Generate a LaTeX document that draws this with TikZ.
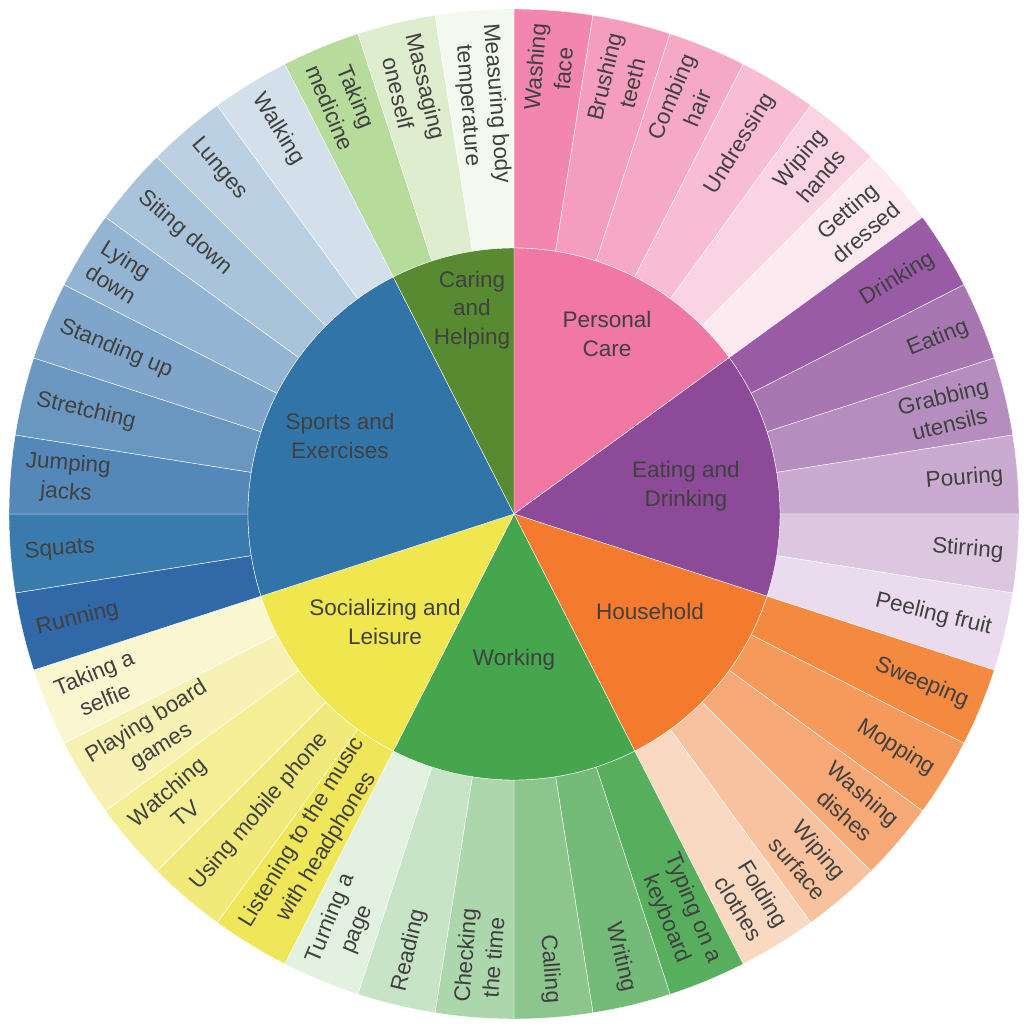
\documentclass[tikz,border=0pt]{standalone}
\usepackage{fontspec}
\setmainfont{Liberation Sans}
\definecolor{pcA}{HTML}{F286AE}\definecolor{pcB}{HTML}{F49DBC}\definecolor{pcC}{HTML}{F5A9C5}
\definecolor{pcD}{HTML}{F8BCD3}\definecolor{pcE}{HTML}{FAD4E2}\definecolor{pcF}{HTML}{FDE9F0}
\definecolor{edA}{HTML}{9A5BA6}\definecolor{edB}{HTML}{A877B1}\definecolor{edC}{HTML}{B58EBF}
\definecolor{edD}{HTML}{CBAAD2}\definecolor{edE}{HTML}{DCC6E0}\definecolor{edF}{HTML}{EADCEE}
\definecolor{hhA}{HTML}{F48A3F}\definecolor{hhB}{HTML}{F59A5A}\definecolor{hhC}{HTML}{F6A877}
\definecolor{hhD}{HTML}{F8C29E}\definecolor{hhE}{HTML}{FAD9C3}
\definecolor{wkA}{HTML}{57AF5E}\definecolor{wkB}{HTML}{74BA79}\definecolor{wkC}{HTML}{8CC68D}
\definecolor{wkD}{HTML}{ACD6AB}\definecolor{wkE}{HTML}{C8E4C6}\definecolor{wkF}{HTML}{E2F1E0}
\definecolor{slA}{HTML}{EFE65A}\definecolor{slB}{HTML}{F1EA7A}\definecolor{slC}{HTML}{F4EE94}
\definecolor{slD}{HTML}{F7F2B3}\definecolor{slE}{HTML}{FAF7D0}
\definecolor{spA}{HTML}{3068A8}\definecolor{spB}{HTML}{3A7BAE}\definecolor{spC}{HTML}{5388B8}
\definecolor{spD}{HTML}{6A97C0}\definecolor{spE}{HTML}{7FA6CA}\definecolor{spF}{HTML}{93B4D2}
\definecolor{spG}{HTML}{A8C3DA}\definecolor{spH}{HTML}{BBD0E2}\definecolor{spI}{HTML}{D3E0EC}
\definecolor{chA}{HTML}{B6DB9B}\definecolor{chB}{HTML}{DDEDCD}\definecolor{chC}{HTML}{F3F9EE}
\definecolor{pcP}{HTML}{F178A3}\definecolor{edP}{HTML}{8C4A98}\definecolor{hhP}{HTML}{F47A2D}
\definecolor{wkP}{HTML}{45A64E}\definecolor{slP}{HTML}{F0E64E}\definecolor{spP}{HTML}{3175A8}
\definecolor{chP}{HTML}{578A31}
\newcommand\leafw[3]{%
  \pgfmathsetmacro\sa{90-9*#1}\pgfmathsetmacro\ea{90-9*(#1+1)}\pgfmathsetmacro\ma{90-9*#1-4.5}%
  \fill[fill=#2,draw=white,line width=0.4pt] (\sa:266) arc[start angle=\sa,end angle=\ea,radius=266] -- (\ea:505) arc[start angle=\ea,end angle=\sa,radius=505] -- cycle;
  \pgfmathparse{\ma>-90?1:0}%
  \ifnum\pgfmathresult=1
    \node[lbl,rotate=\ma,anchor=east] (n#1) at (\ma:491) {#3};
  \else
    \pgfmathsetmacro\ra{\ma+180}%
    \node[lbl,rotate=\ra,anchor=west] (n#1) at (\ma:491) {#3};
  \fi}
\newcommand\parentw[5]{%
  \fill[fill=#3,draw=white,line width=0.4pt] (0,0) -- (#1:266) arc[start angle=#1,end angle=#2,radius=266] -- cycle;}
\begin{document}
\begin{tikzpicture}[x=1pt,y=1pt,lbl/.style={text=black!75,font=\fontsize{22.5}{28.5}\selectfont,align=center,inner sep=0pt}]
\useasboundingbox (-514,-514) rectangle (514,514);
\leafw{0}{pcA}{Washing\\face}
\leafw{1}{pcB}{Brushing\\teeth}
\leafw{2}{pcC}{Combing\\hair}
\leafw{3}{pcD}{Undressing}
\leafw{4}{pcE}{Wiping\\hands}
\leafw{5}{pcF}{Getting\\dressed}
\leafw{6}{edA}{Drinking}
\leafw{7}{edB}{Eating}
\leafw{8}{edC}{Grabbing\\utensils}
\leafw{9}{edD}{Pouring}
\leafw{10}{edE}{Stirring}
\leafw{11}{edF}{Peeling fruit}
\leafw{12}{hhA}{Sweeping}
\leafw{13}{hhB}{Mopping}
\leafw{14}{hhC}{Washing\\dishes}
\leafw{15}{hhD}{Wiping\\surface}
\leafw{16}{hhE}{Folding\\clothes}
\leafw{17}{wkA}{Typing on a\\keyboard}
\leafw{18}{wkB}{Writing}
\leafw{19}{wkC}{Calling}
\leafw{20}{wkD}{Checking\\the time}
\leafw{21}{wkE}{Reading}
\leafw{22}{wkF}{Turning a\\page}
\leafw{23}{slA}{Listening to the music\\with headphones}
\leafw{24}{slB}{Using mobile phone}
\leafw{25}{slC}{Watching\\TV}
\leafw{26}{slD}{Playing board\\games}
\leafw{27}{slE}{Taking a\\selfie}
\leafw{28}{spA}{Running}
\leafw{29}{spB}{Squats}
\leafw{30}{spC}{Jumping\\jacks}
\leafw{31}{spD}{Stretching}
\leafw{32}{spE}{Standing up}
\leafw{33}{spF}{Lying\\down}
\leafw{34}{spG}{Siting down}
\leafw{35}{spH}{Lunges}
\leafw{36}{spI}{Walking}
\leafw{37}{chA}{Taking\\medicine}
\leafw{38}{chB}{Massaging\\oneself}
\leafw{39}{chC}{Measuring body\\temperature}
\parentw{90}{36}{pcP}{}{a}
\parentw{36}{-18}{edP}{}{b}
\parentw{-18}{-63}{hhP}{}{c}
\parentw{-63}{-117}{wkP}{}{d}
\parentw{-117}{-162}{slP}{}{e}
\parentw{-162}{-243}{spP}{}{f}
\parentw{117}{90}{chP}{}{g}
\node[lbl] (pa) at (93,180) {Personal\\Care};
\node[lbl] (pb) at (172,28) {Eating and\\Drinking};
\node[lbl] (pc) at (136,-97) {Household};
\node[lbl] (pd) at (0,-146) {Working};
\node[lbl] (pe) at (-129,-108) {Socializing and\\Leisure};
\node[lbl] (pf) at (-174,78) {Sports and\\Exercises};
\node[lbl] (pg) at (-42,204) {Caring\\and\\Helping};
\end{tikzpicture}
\end{document}
